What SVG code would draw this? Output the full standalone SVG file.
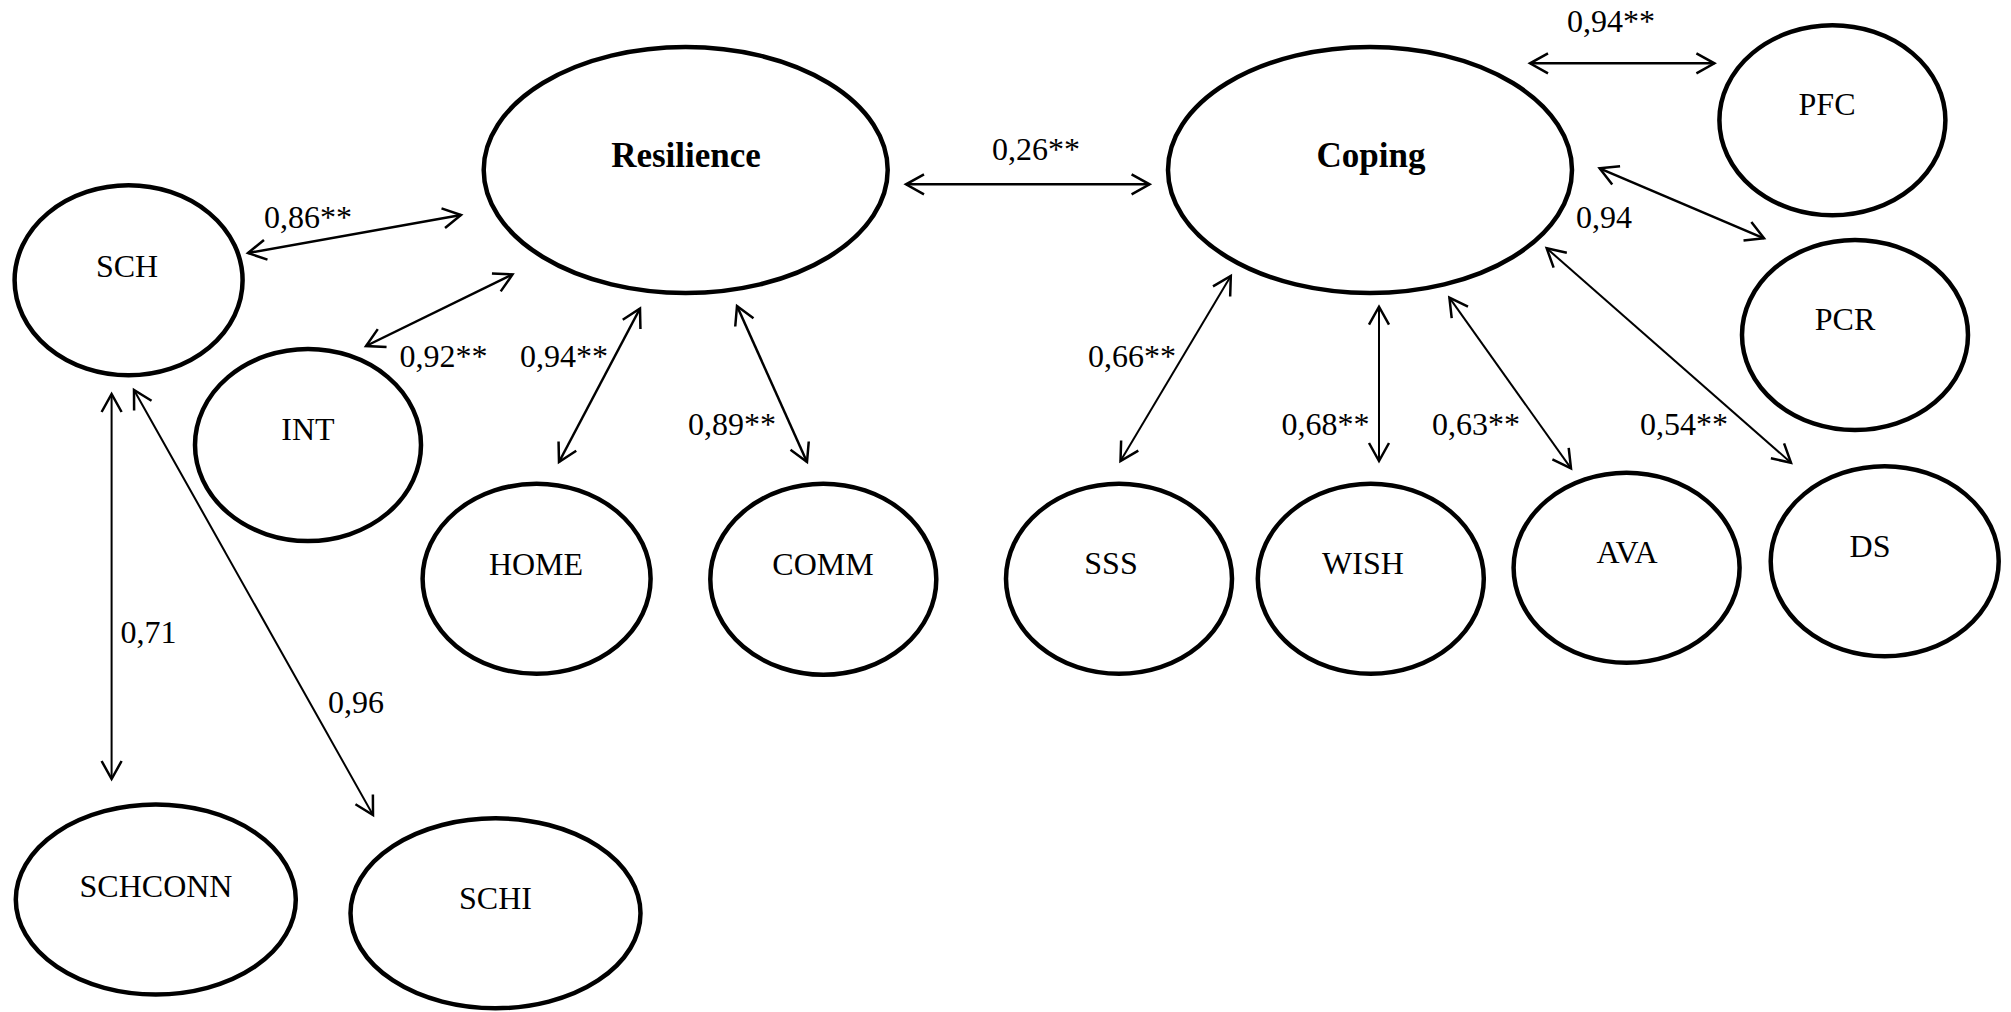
<svg xmlns="http://www.w3.org/2000/svg" width="2011" height="1012" viewBox="0 0 2011 1012">
<style>
.node ellipse{fill:#fff;stroke:#000;stroke-width:4.5}
.lbl{font-size:32px;fill:#000}
.nt{font-size:32px;fill:#000;text-anchor:middle}
.bt{font-size:35px;font-weight:bold;fill:#000;text-anchor:middle}
.c line{stroke:#000;fill:none;marker-start:url(#ah);marker-end:url(#ah)}
.thick{stroke-width:2.5}
.thin{stroke-width:2}
</style>
<defs>
<marker id="ah" markerUnits="userSpaceOnUse" markerWidth="40" markerHeight="40" viewBox="-25 -20 30 40" refX="0" refY="0" orient="auto-start-reverse">
<path d="M-18,-10 L0,0 L-18,10" fill="none" stroke="#000" stroke-width="2.5" stroke-linejoin="miter"/>
</marker>
</defs>
<rect width="2011" height="1012" fill="#fff"/>
<g id="connectors" class="c">
<line class="thick" x1="248" y1="253" x2="461" y2="215"/>
<line class="thick" x1="366" y1="346" x2="512.5" y2="274.5"/>
<line class="thick" x1="559" y1="462" x2="640" y2="308.5"/>
<line class="thick" x1="807" y1="462" x2="737" y2="306"/>
<line class="thin" x1="111.6" y1="394" x2="111.6" y2="779"/>
<line class="thin" x1="134" y1="390" x2="373" y2="815"/>
<line class="thick" x1="906" y1="184.3" x2="1149.6" y2="184.3"/>
<line class="thick" x1="1530" y1="63.3" x2="1714.4" y2="63.3"/>
<line class="thick" x1="1599.6" y1="168.3" x2="1764" y2="238.3"/>
<line class="thin" x1="1230.8" y1="276" x2="1120.5" y2="461"/>
<line class="thin" x1="1379" y1="306.7" x2="1379" y2="461"/>
<line class="thin" x1="1449.4" y1="297.7" x2="1571" y2="468.3"/>
<line class="thin" x1="1546.7" y1="248.3" x2="1791" y2="462.7"/>
</g>
<g id="labels" font-family="Liberation Serif, Times New Roman, serif">
<text class="lbl" x="264" y="228">0,86**</text>
<text class="lbl" x="399.5" y="367">0,92**</text>
<text class="lbl" x="520" y="367">0,94**</text>
<text class="lbl" x="688" y="435">0,89**</text>
<text class="lbl" x="120.5" y="643">0,71</text>
<text class="lbl" x="328" y="713">0,96</text>
<text class="lbl" x="992" y="160">0,26**</text>
<text class="lbl" x="1567" y="32">0,94**</text>
<text class="lbl" x="1576" y="228">0,94</text>
<text class="lbl" x="1088" y="367">0,66**</text>
<text class="lbl" x="1281.5" y="435">0,68**</text>
<text class="lbl" x="1432" y="435">0,63**</text>
<text class="lbl" x="1640" y="435">0,54**</text>
</g>
<g id="nodes" font-family="Liberation Serif, Times New Roman, serif">
<g id="node-resilience" class="node"><ellipse cx="685.7" cy="170" rx="202" ry="123"/><text class="bt" x="686" y="167">Resilience</text></g>
<g id="node-coping" class="node"><ellipse cx="1370" cy="170" rx="202" ry="123"/><text class="bt" x="1371" y="167">Coping</text></g>
<g id="node-sch" class="node"><ellipse cx="128.6" cy="280.3" rx="114" ry="95"/><text class="nt" x="127" y="277">SCH</text></g>
<g id="node-int" class="node"><ellipse cx="308" cy="445" rx="113" ry="96"/><text class="nt" x="308" y="440">INT</text></g>
<g id="node-home" class="node"><ellipse cx="536.6" cy="578.8" rx="114" ry="95"/><text class="nt" x="536" y="575">HOME</text></g>
<g id="node-comm" class="node"><ellipse cx="823.3" cy="579.2" rx="113" ry="95.5"/><text class="nt" x="823" y="575">COMM</text></g>
<g id="node-schconn" class="node"><ellipse cx="155.8" cy="899.5" rx="140" ry="95"/><text class="nt" x="156" y="897">SCHCONN</text></g>
<g id="node-schi" class="node"><ellipse cx="495.5" cy="913.3" rx="145" ry="95"/><text class="nt" x="495.5" y="909">SCHI</text></g>
<g id="node-sss" class="node"><ellipse cx="1119" cy="578.8" rx="113" ry="95"/><text class="nt" x="1111" y="574">SSS</text></g>
<g id="node-wish" class="node"><ellipse cx="1370.8" cy="578.8" rx="113" ry="95"/><text class="nt" x="1363" y="574">WISH</text></g>
<g id="node-ava" class="node"><ellipse cx="1626.6" cy="567.8" rx="113" ry="95"/><text class="nt" x="1627" y="563">AVA</text></g>
<g id="node-ds" class="node"><ellipse cx="1884.7" cy="561.3" rx="114" ry="95"/><text class="nt" x="1870" y="557">DS</text></g>
<g id="node-pfc" class="node"><ellipse cx="1832.4" cy="120.3" rx="113" ry="95"/><text class="nt" x="1827" y="115">PFC</text></g>
<g id="node-pcr" class="node"><ellipse cx="1855" cy="335" rx="113" ry="95"/><text class="nt" x="1845" y="330">PCR</text></g>
</g>
</svg>
